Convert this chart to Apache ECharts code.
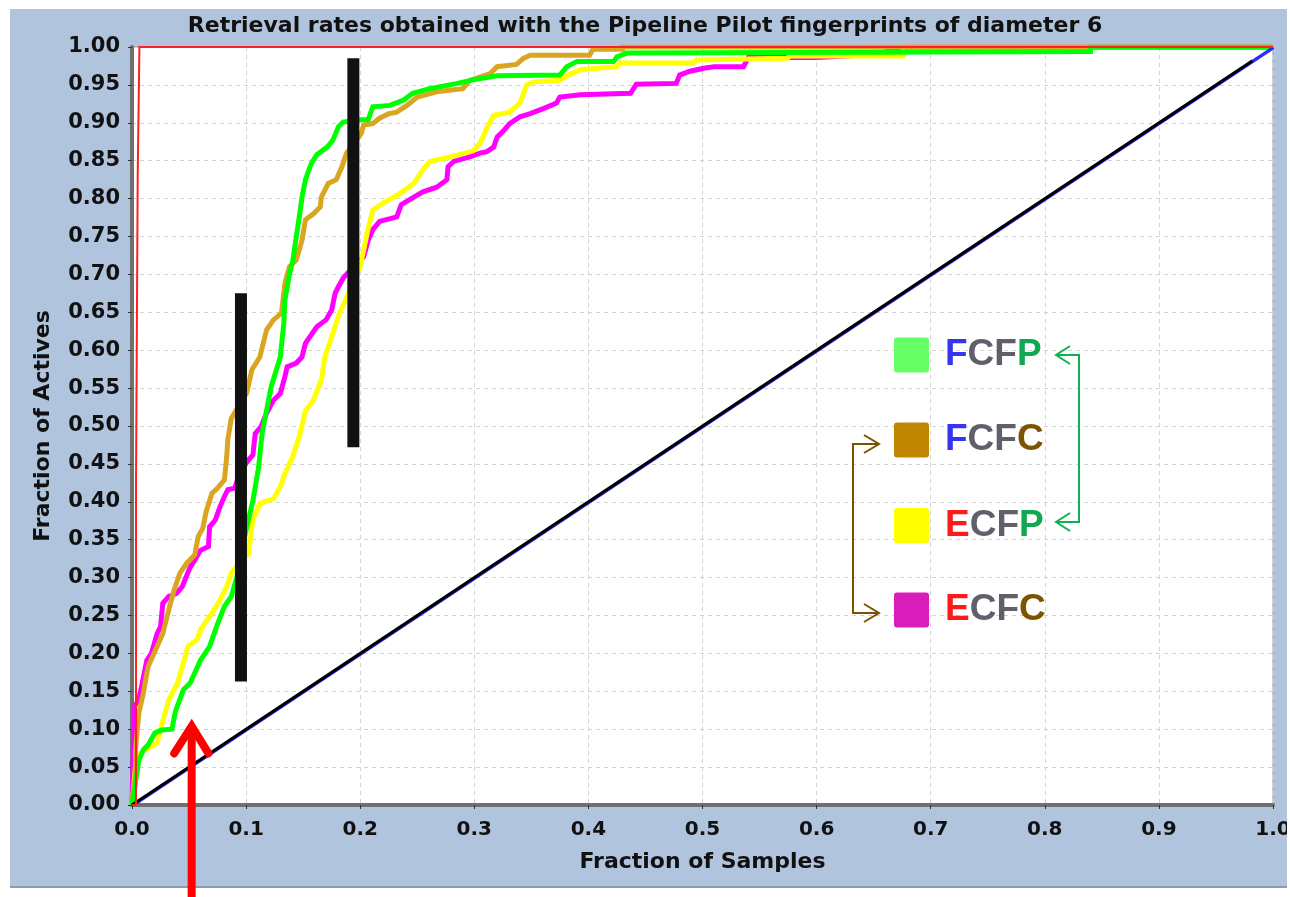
<!DOCTYPE html>
<html>
<head>
<meta charset="utf-8">
<script src="https://cdn.jsdelivr.net/npm/echarts/dist/echarts.min.js"></script>
<style>
html,body{margin:0;padding:0;background:#fff;}
#c{width:1290px;height:897px;}
</style>
</head>
<body>
<div id="c"></div>
<script>
// ---- data ----
const titleText = 'Retrieval rates obtained with the Pipeline Pilot fingerprints of diameter 6';
const xName = 'Fraction of Samples';
const yName = 'Fraction of Actives';
const xTickLabels = ['0.0','0.1','0.2','0.3','0.4','0.5','0.6','0.7','0.8','0.9','1.0'];
const yTickLabels = ['0.00','0.05','0.10','0.15','0.20','0.25','0.30','0.35','0.40','0.45','0.50',
  '0.55','0.60','0.65','0.70','0.75','0.80','0.85','0.90','0.95','1.00'];

const fcfp = [[0,0],[0.006,0.059],[0.01,0.073],[0.014,0.079],[0.02,0.095],[0.026,0.099],[0.035,0.1],
  [0.038,0.123],[0.045,0.152],[0.051,0.161],[0.06,0.191],[0.068,0.209],[0.074,0.235],[0.081,0.262],
  [0.087,0.275],[0.092,0.301],[0.1,0.363],[0.106,0.402],[0.111,0.446],[0.114,0.49],[0.118,0.521],
  [0.122,0.552],[0.13,0.591],[0.133,0.635],[0.134,0.666],[0.138,0.7],[0.141,0.719],[0.144,0.75],
  [0.147,0.78],[0.149,0.802],[0.152,0.825],[0.157,0.846],[0.162,0.858],[0.171,0.868],[0.176,0.877],
  [0.181,0.895],[0.185,0.901],[0.2,0.904],[0.207,0.904],[0.211,0.921],[0.226,0.923],[0.238,0.93],
  [0.246,0.939],[0.261,0.945],[0.285,0.952],[0.3,0.957],[0.32,0.962],[0.375,0.963],[0.381,0.974],
  [0.39,0.981],[0.422,0.981],[0.425,0.987],[0.434,0.992],[0.84,0.994],[0.84,1],[1,1]];

const fcfc = [[0,0],[0.003,0.04],[0.003,0.073],[0.006,0.121],[0.01,0.148],[0.014,0.182],[0.022,0.209],
  [0.027,0.226],[0.033,0.262],[0.037,0.284],[0.042,0.306],[0.048,0.319],[0.055,0.33],[0.058,0.354],
  [0.062,0.365],[0.065,0.387],[0.07,0.411],[0.075,0.418],[0.081,0.429],[0.083,0.459],[0.084,0.482],
  [0.087,0.51],[0.095,0.53],[0.1005,0.543],[0.105,0.574],[0.112,0.591],[0.118,0.627],[0.124,0.64],
  [0.131,0.649],[0.134,0.688],[0.138,0.71],[0.144,0.719],[0.149,0.745],[0.152,0.772],[0.159,0.78],
  [0.165,0.789],[0.166,0.802],[0.172,0.82],[0.179,0.825],[0.184,0.842],[0.188,0.86],[0.195,0.874],
  [0.201,0.886],[0.203,0.897],[0.211,0.899],[0.217,0.906],[0.225,0.912],[0.232,0.914],[0.241,0.923],
  [0.25,0.934],[0.267,0.941],[0.29,0.945],[0.296,0.956],[0.314,0.965],[0.32,0.974],[0.337,0.977],
  [0.343,0.985],[0.349,0.989],[0.401,0.989],[0.404,0.997],[0.43,0.997],[0.43,1],[1,1]];

const ecfp = [[0,0],[0.003,0.05],[0.007,0.068],[0.022,0.082],[0.026,0.105],[0.032,0.138],[0.04,0.161],
  [0.049,0.209],[0.057,0.218],[0.06,0.231],[0.07,0.253],[0.077,0.27],[0.083,0.288],[0.087,0.306],
  [0.095,0.32],[0.102,0.332],[0.106,0.376],[0.112,0.398],[0.124,0.404],[0.13,0.42],[0.134,0.437],
  [0.141,0.46],[0.147,0.488],[0.152,0.52],[0.159,0.534],[0.166,0.561],[0.169,0.591],[0.176,0.622],
  [0.182,0.649],[0.187,0.666],[0.194,0.69],[0.2,0.71],[0.206,0.754],[0.211,0.785],[0.22,0.794],
  [0.235,0.807],[0.247,0.82],[0.255,0.838],[0.261,0.849],[0.279,0.855],[0.299,0.863],[0.305,0.873],
  [0.311,0.893],[0.317,0.91],[0.331,0.914],[0.34,0.926],[0.346,0.95],[0.352,0.954],[0.375,0.956],
  [0.381,0.962],[0.393,0.97],[0.425,0.974],[0.428,0.979],[0.492,0.979],[0.495,0.983],[0.574,0.985],
  [0.577,0.988],[0.676,0.988],[0.676,1],[1,1]];

const ecfc = [[0,0],[0.002,0.13],[0.006,0.139],[0.009,0.161],[0.013,0.191],[0.017,0.2],[0.022,0.226],
  [0.025,0.235],[0.027,0.266],[0.032,0.275],[0.039,0.279],[0.044,0.288],[0.051,0.314],[0.055,0.323],
  [0.06,0.336],[0.067,0.341],[0.068,0.367],[0.073,0.376],[0.077,0.393],[0.081,0.407],[0.084,0.416],
  [0.09,0.418],[0.095,0.44],[0.102,0.455],[0.106,0.462],[0.108,0.49],[0.113,0.499],[0.118,0.517],
  [0.124,0.534],[0.13,0.543],[0.134,0.565],[0.136,0.578],[0.144,0.583],[0.149,0.591],[0.152,0.609],
  [0.156,0.618],[0.162,0.631],[0.17,0.64],[0.175,0.653],[0.178,0.675],[0.181,0.684],[0.185,0.695],
  [0.194,0.71],[0.203,0.723],[0.207,0.745],[0.211,0.759],[0.217,0.77],[0.232,0.776],[0.236,0.792],
  [0.247,0.802],[0.255,0.809],[0.267,0.815],[0.276,0.825],[0.277,0.842],[0.282,0.849],[0.296,0.855],
  [0.305,0.86],[0.311,0.862],[0.317,0.868],[0.32,0.881],[0.326,0.89],[0.331,0.899],[0.34,0.908],
  [0.349,0.912],[0.361,0.919],[0.372,0.926],[0.375,0.934],[0.393,0.937],[0.437,0.939],[0.442,0.951],
  [0.477,0.952],[0.48,0.963],[0.489,0.968],[0.501,0.972],[0.51,0.974],[0.536,0.974],[0.54,0.986],
  [0.6,0.986],[0.65,0.99],[0.68,1],[1,1]];

const ideal = [[0,0],[0.0035,0],[0.0035,0.42],[0.005,0.42],[0.005,0.83],[0.0065,0.83],[0.0065,1],[1,1]];
const randomLine = [[0,0],[1,1]];
const diagonal = [[0,0],[0.982,0.982]];
const bar1 = [[0.0955,0.163],[0.0955,0.675]];
const bar2 = [[0.194,0.472],[0.194,0.985]];
const arrowShaft = [[0.0523,-0.13],[0.0523,0.104]];
const arrowHead = [[0.037,0.068],[0.0523,0.104],[0.067,0.068]];

const legendItems = [
  {name:'FCFP', color:'#66ff66', parts:[['b','F'],['g','CF'],['gr','P']]},
  {name:'FCFC', color:'#c08600', parts:[['b','F'],['g','CF'],['br','C']]},
  {name:'ECFP', color:'#ffff00', parts:[['r','E'],['g','CF'],['gr','P']]},
  {name:'ECFC', color:'#da1cbd', parts:[['r','E'],['g','CF'],['br','C']]}
];

// ---- chart ----
const chart = echarts.init(document.getElementById('c'), null, {renderer:'canvas'});
const font = 'DejaVu Sans';
function curve(data, color, w, z){
  return {type:'line', data:data, showSymbol:false, symbol:'none', silent:true, z:z||2,
    lineStyle:{color:color, width:w, join:'miter'}, animation:false};
}
function tok(c){
  return {fill:c, color:c, fontSize:37, fontWeight:'bold', fontFamily:'Liberation Sans'};
}
const rich = {
  b:tok('#3434f2'), g:tok('#60606a'), gr:tok('#10a850'), br:tok('#7d5400'), r:tok('#ff1a1a')
};
const rowY = [355, 440, 525.5, 610];
const graphics = [
  {type:'rect', z:-10, shape:{x:10,y:9,width:1277,height:879}, style:{fill:'#b0c4de'}},
  {type:'rect', z:-9, shape:{x:10,y:886,width:1277,height:2}, style:{fill:'#8d9bb0'}},
  {type:'rect', z:100, shape:{x:1287,y:0,width:3,height:897}, style:{fill:'#ffffff'}}
];
legendItems.forEach((it, i) => {
  graphics.push({type:'rect', z:50, shape:{x:894,y:rowY[i]-17.5,width:35,height:35,r:3}, style:{fill:it.color}});
  graphics.push({type:'text', z:50, x:945, y:rowY[i], style:{
    text: it.parts.map(p => '{' + p[0] + '|' + p[1] + '}').join(''),
    rich: rich, fontSize:37, fontWeight:'bold', fontFamily:'Liberation Sans',
    verticalAlign:'middle', align:'left'}});
});
const gc = '#10b050', bc = '#7a5200';
graphics.push({type:'polyline', z:50, shape:{points:[[1056,355],[1079,355],[1079,522],[1056,522]]}, style:{stroke:gc, lineWidth:2, fill:null}});
graphics.push({type:'polyline', z:50, shape:{points:[[1070,346],[1056,355],[1070,364]]}, style:{stroke:gc, lineWidth:2, fill:null}});
graphics.push({type:'polyline', z:50, shape:{points:[[1070,513],[1056,522],[1070,531]]}, style:{stroke:gc, lineWidth:2, fill:null}});
graphics.push({type:'polyline', z:50, shape:{points:[[879,444],[853,444],[853,613],[879,613]]}, style:{stroke:bc, lineWidth:2, fill:null}});
graphics.push({type:'polyline', z:50, shape:{points:[[864,435],[879,444],[864,453]]}, style:{stroke:bc, lineWidth:2, fill:null}});
graphics.push({type:'polyline', z:50, shape:{points:[[864,604],[879,613],[864,622]]}, style:{stroke:bc, lineWidth:2, fill:null}});

const option = {
  animation:false,
  backgroundColor:'#ffffff',
  title:{text:titleText, left:'center', top:10,
    textStyle:{fontFamily:font, fontWeight:'bold', fontSize:22, color:'#111'}},
  grid:{left:132, top:47, right:17, bottom:92, show:true, backgroundColor:'#ffffff',
    borderColor:'#9a9a9a', borderWidth:1, containLabel:false, outerBoundsMode:'none'},
  xAxis:{type:'value', min:0, max:1, interval:0.1, offset:2,
    name:xName, nameLocation:'middle', nameGap:44,
    nameTextStyle:{fontFamily:font, fontWeight:'bold', fontSize:22, color:'#111'},
    axisLine:{show:true, lineStyle:{color:'#707070', width:4}},
    axisTick:{show:true, length:4, lineStyle:{color:'#333', width:1}},
    axisLabel:{margin:13, fontFamily:font, fontWeight:'bold', fontSize:20, color:'#111',
      formatter:(v,i)=>xTickLabels[i]},
    splitLine:{show:true, lineStyle:{color:'#d2d2d2', type:[4,4], width:1}}},
  yAxis:{type:'value', min:0, max:1, interval:0.05, offset:2,
    name:yName, nameLocation:'middle', nameGap:76, nameRotate:90,
    nameTextStyle:{fontFamily:font, fontWeight:'bold', fontSize:22, color:'#111'},
    axisLine:{show:true, lineStyle:{color:'#707070', width:4}},
    axisTick:{show:true, length:4, lineStyle:{color:'#333', width:1}},
    axisLabel:{margin:10, fontFamily:font, fontWeight:'bold', fontSize:21, color:'#111',
      formatter:(v,i)=>yTickLabels[i]},
    splitLine:{show:true, lineStyle:{color:'#d2d2d2', type:[4,4], width:1}}},
  graphic: graphics,
  series:[
    curve(ecfc, '#ff00ff', 5, 2),
    curve(ecfp, '#ffff00', 5, 2),
    curve(fcfc, '#daa520', 5, 2),
    curve(fcfp, '#00ff00', 5, 2),
    {type:'line', data:randomLine, showSymbol:false, silent:true, z:3,
      lineStyle:{color:'#2a2aff', width:2, shadowColor:'#2a2aff', shadowBlur:0, shadowOffsetX:1, shadowOffsetY:1}},
    curve(diagonal, '#000000', 3, 4),
    curve(ideal, '#ff2020', 2, 5),
    {type:'line', data:bar1, showSymbol:false, silent:true, z:6, lineStyle:{color:'#111', width:12, cap:'butt'}},
    {type:'line', data:bar2, showSymbol:false, silent:true, z:6, lineStyle:{color:'#111', width:12, cap:'butt'}},
    {type:'line', data:arrowShaft, showSymbol:false, silent:true, z:7, clip:false, lineStyle:{color:'#ff0000', width:8, cap:'butt'}},
    {type:'line', data:arrowHead, showSymbol:false, silent:true, z:7, clip:false, lineStyle:{color:'#ff0000', width:8, cap:'round', join:'miter'}}
  ]
};
chart.setOption(option);
</script>
</body>
</html>
